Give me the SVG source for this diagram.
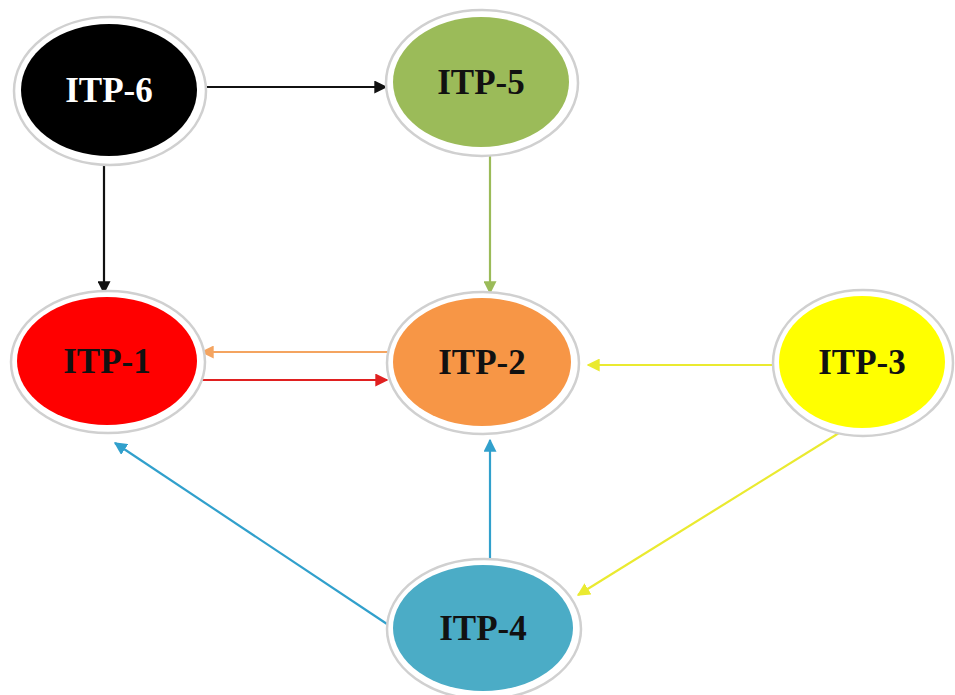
<svg xmlns="http://www.w3.org/2000/svg" width="955" height="695" viewBox="0 0 955 695">
<defs>
<style>
.ring{fill:#ffffff;stroke:#d0d0d0;stroke-width:2.5}
.lbl{font-family:"Liberation Serif","Times New Roman",serif;font-weight:bold;font-size:35px;text-anchor:middle}
.c{fill:none;stroke-width:2.2}
</style>
<marker id="aBlack" viewBox="0 0 10 10" refX="9" refY="5" markerWidth="13" markerHeight="13" orient="auto" markerUnits="userSpaceOnUse"><path d="M0,0 L10,5 L0,10 z" fill="#111"/></marker>
<marker id="aGreen" viewBox="0 0 10 10" refX="9" refY="5" markerWidth="13" markerHeight="13" orient="auto" markerUnits="userSpaceOnUse"><path d="M0,0 L10,5 L0,10 z" fill="#9bbb59"/></marker>
<marker id="aOrange" viewBox="0 0 10 10" refX="9" refY="5" markerWidth="13" markerHeight="13" orient="auto" markerUnits="userSpaceOnUse"><path d="M0,0 L10,5 L0,10 z" fill="#f4a460"/></marker>
<marker id="aRed" viewBox="0 0 10 10" refX="9" refY="5" markerWidth="13" markerHeight="13" orient="auto" markerUnits="userSpaceOnUse"><path d="M0,0 L10,5 L0,10 z" fill="#e02020"/></marker>
<marker id="aYellow" viewBox="0 0 10 10" refX="9" refY="5" markerWidth="13" markerHeight="13" orient="auto" markerUnits="userSpaceOnUse"><path d="M0,0 L10,5 L0,10 z" fill="#eaea30"/></marker>
<marker id="aBlue" viewBox="0 0 10 10" refX="9" refY="5" markerWidth="13" markerHeight="13" orient="auto" markerUnits="userSpaceOnUse"><path d="M0,0 L10,5 L0,10 z" fill="#31a0cc"/></marker>
</defs>
<rect width="955" height="695" fill="#ffffff"/>
<g id="connectors">
<line class="c" x1="198" y1="87" x2="386" y2="87" stroke="#111" marker-end="url(#aBlack)"/>
<line class="c" x1="104" y1="155" x2="104" y2="293" stroke="#111" marker-end="url(#aBlack)"/>
<line class="c" x1="490" y1="145" x2="490" y2="293" stroke="#9bbb59" marker-end="url(#aGreen)"/>
<line class="c" x1="392" y1="352" x2="202" y2="352" stroke="#f4a460" marker-end="url(#aOrange)"/>
<line class="c" x1="200" y1="380" x2="387" y2="380" stroke="#e02020" marker-end="url(#aRed)"/>
<line class="c" x1="778" y1="365" x2="588" y2="365" stroke="#eaea30" marker-end="url(#aYellow)"/>
<line class="c" x1="847" y1="428" x2="578" y2="595" stroke="#eaea30" marker-end="url(#aYellow)"/>
<line class="c" x1="490" y1="563" x2="490" y2="440" stroke="#31a0cc" marker-end="url(#aBlue)"/>
<line class="c" x1="393" y1="628" x2="115" y2="443" stroke="#31a0cc" marker-end="url(#aBlue)"/>
</g>
<g id="itp6">
<ellipse class="ring" cx="110" cy="91" rx="96" ry="74"/>
<ellipse cx="109" cy="90" rx="88" ry="66" fill="#000000"/>
<text class="lbl" x="109" y="102" fill="#ffffff">ITP-6</text>
</g>
<g id="itp5">
<ellipse class="ring" cx="482" cy="83" rx="96" ry="73"/>
<ellipse cx="481" cy="82" rx="88" ry="65" fill="#9bbb59"/>
<text class="lbl" x="481" y="94" fill="#111">ITP-5</text>
</g>
<g id="itp1">
<ellipse class="ring" cx="108" cy="362" rx="97" ry="71"/>
<ellipse cx="107" cy="361" rx="90" ry="64" fill="#ff0000"/>
<text class="lbl" x="107" y="373" fill="#111">ITP-1</text>
</g>
<g id="itp2">
<ellipse class="ring" cx="483" cy="363" rx="96" ry="71"/>
<ellipse cx="482" cy="362" rx="89" ry="64" fill="#f79646"/>
<text class="lbl" x="482" y="374" fill="#111">ITP-2</text>
</g>
<g id="itp3">
<ellipse class="ring" cx="863" cy="363" rx="90" ry="73"/>
<ellipse cx="862" cy="362" rx="83" ry="66" fill="#ffff00"/>
<text class="lbl" x="862" y="374" fill="#111">ITP-3</text>
</g>
<g id="itp4">
<ellipse class="ring" cx="484" cy="629" rx="97" ry="70"/>
<ellipse cx="483" cy="628" rx="90" ry="63" fill="#4bacc6"/>
<text class="lbl" x="483" y="640" fill="#111">ITP-4</text>
</g>
</svg>
